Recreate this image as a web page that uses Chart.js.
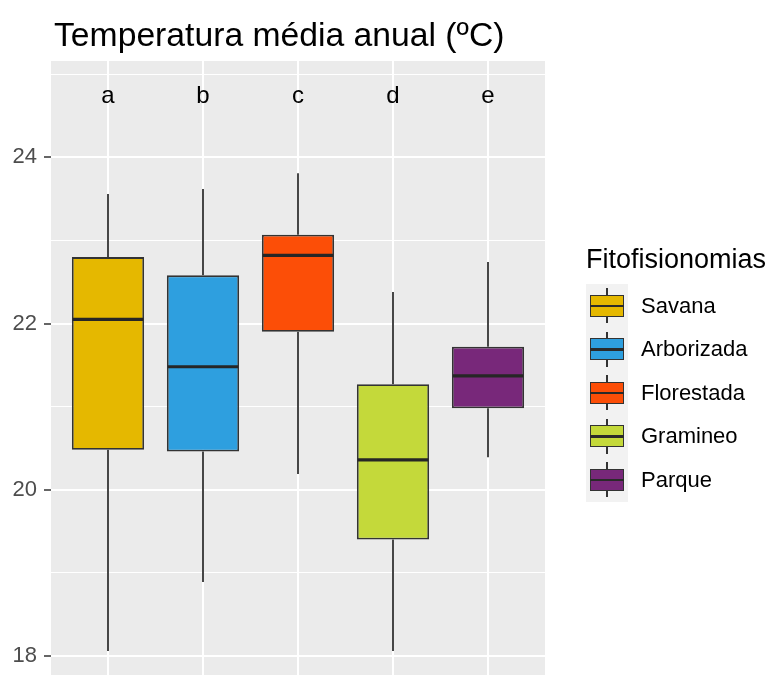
<!DOCTYPE html>
<html>
<head>
<meta charset="utf-8">
<script src="https://cdn.jsdelivr.net/npm/chart.js@4/dist/chart.umd.min.js"></script>
<style>
  html, body { margin: 0; padding: 0; background: #fff; overflow: hidden; }
  #wrap { position: relative; width: 771px; height: 675px; font-family: "Liberation Sans", Arial, sans-serif; }
  #chart { position: absolute; left: 0; top: 0; }
  .title { position: absolute; left: 54px; top: 17px; font-size: 33.7px; line-height: 34px; color: #000; white-space: nowrap; }
  .leg-title { position: absolute; left: 586px; top: 246px; font-size: 27px; line-height: 27px; color: #000; white-space: nowrap; }
  .leg-keys { position: absolute; left: 586px; top: 284px; width: 42px; background: #F2F2F2; }
  .leg-key { position: relative; width: 42px; height: 43.5px; }
  .leg-label { position: absolute; left: 641px; font-size: 22px; line-height: 22px; color: #000; white-space: nowrap; }
  .k-wh { position: absolute; left: 20px; width: 1.8px; background: #333; }
  .k-box { position: absolute; left: 4px; width: 34px; box-sizing: border-box; border: 1.8px solid #333; }
  .k-med { position: absolute; left: 4px; width: 34px; height: 2.5px; background: #2a2a2a; }
</style>
</head>
<body>
<div id="wrap">
  <canvas id="chart" width="771" height="675"></canvas>
  <div class="title">Temperatura média anual (ºC)</div>
  <div class="leg-title">Fitofisionomias</div>
  <div class="leg-keys" id="legKeys"></div>
</div>
<script>
// Vegetation types (fitofisionomias) and their annual mean temperature summaries (°C)
const categories = ['Savana', 'Arborizada', 'Florestada', 'Gramineo', 'Parque'];
const groupLetters = ['a', 'b', 'c', 'd', 'e'];
const whiskerLow  = [18.06, 18.89, 20.19, 18.06, 20.39];
const quartile1   = [20.48, 20.46, 21.90, 19.40, 20.98];
const medians     = [22.05, 21.48, 22.82, 20.36, 21.37];
const quartile3   = [22.80, 22.58, 23.07, 21.27, 21.72];
const whiskerHigh = [23.56, 23.62, 23.81, 22.38, 22.74];
const fillColors  = ['#E5B800', '#2E9FDF', '#FC4E07', '#C4D93A', '#78287A'];

// y axis
const yMajorTicks = [18, 20, 22, 24];
const yMinorTicks = [19, 21, 23, 25];
const yRange = [17.77, 25.16];
const letterLevel = 24.74;

const positions = categories.map((_, i) => i + 1);

const outline = '#333333';

// grey panel background
const panelBg = {
  id: 'panelBg',
  beforeDraw(chart) {
    const { ctx, chartArea: a } = chart;
    ctx.save();
    ctx.fillStyle = '#EBEBEB';
    ctx.fillRect(a.left, a.top, a.right - a.left, a.bottom - a.top);
    ctx.restore();
  }
};

// whiskers under the boxes, medians and group letters on top
const boxExtras = {
  id: 'boxExtras',
  beforeDatasetsDraw(chart) {
    const { ctx } = chart;
    const ys = chart.scales.y;
    const meta = chart.getDatasetMeta(0);
    ctx.save();
    ctx.strokeStyle = outline;
    ctx.lineWidth = 1.8;
    meta.data.forEach((bar, i) => {
      const { x } = bar.getProps(['x'], true);
      ctx.beginPath();
      ctx.moveTo(x, ys.getPixelForValue(quartile3[i]));
      ctx.lineTo(x, ys.getPixelForValue(whiskerHigh[i]));
      ctx.moveTo(x, ys.getPixelForValue(quartile1[i]));
      ctx.lineTo(x, ys.getPixelForValue(whiskerLow[i]));
      ctx.stroke();
    });
    ctx.restore();
  },
  afterDatasetsDraw(chart) {
    const { ctx } = chart;
    const ys = chart.scales.y;
    const meta = chart.getDatasetMeta(0);
    ctx.save();
    meta.data.forEach((bar, i) => {
      const { x, width } = bar.getProps(['x', 'width'], true);
      const y = ys.getPixelForValue(medians[i]);
      ctx.strokeStyle = '#262626';
      ctx.lineWidth = 3.2;
      ctx.beginPath();
      ctx.moveTo(x - width / 2 + 0.9, y);
      ctx.lineTo(x + width / 2 - 0.9, y);
      ctx.stroke();
      ctx.fillStyle = '#000';
      ctx.font = '24px "Liberation Sans", Arial, sans-serif';
      ctx.textAlign = 'center';
      ctx.textBaseline = 'middle';
      ctx.fillText(groupLetters[i], x, ys.getPixelForValue(letterLevel));
    });
    ctx.restore();
  }
};

new Chart(document.getElementById('chart'), {
  type: 'bar',
  data: {
    datasets: [{
      label: 'Temperatura',
      data: positions.map((p, i) => ({ x: p, y: [quartile1[i], quartile3[i]] })),
      backgroundColor: fillColors,
      borderColor: outline,
      borderWidth: 1.8,
      borderSkipped: false,
      categoryPercentage: 1,
      barPercentage: 0.76
    }]
  },
  options: {
    responsive: false,
    animation: false,
    layout: { padding: { left: 0, top: 61, right: 226, bottom: 0 } },
    plugins: { legend: { display: false }, title: { display: false }, tooltip: { enabled: false } },
    scales: {
      x: {
        type: 'linear',
        min: 0.4,
        max: 5.6,
        offset: false,
        afterBuildTicks(s) { s.ticks = positions.map(v => ({ value: v })); },
        afterFit(s) { s.height = 0; s.paddingLeft = 0; s.paddingRight = 0; },
        ticks: { display: false },
        border: { display: false },
        grid: { color: '#FFFFFF', lineWidth: 2, drawTicks: false, offset: false }
      },
      y: {
        min: yRange[0],
        max: yRange[1],
        afterBuildTicks(s) {
          s.ticks = [...yMajorTicks, ...yMinorTicks].sort((a, b) => a - b).map(v => ({ value: v }));
        },
        afterFit(s) { s.width = 51; s.paddingTop = 0; s.paddingBottom = 0; },
        border: { display: false },
        grid: {
          color: '#FFFFFF',
          lineWidth: c => (c.tick && yMajorTicks.includes(c.tick.value)) ? 2 : 1,
          tickColor: c => (c.tick && yMajorTicks.includes(c.tick.value)) ? '#333333' : 'rgba(0,0,0,0)',
          tickWidth: 1.5,
          tickLength: 7,
          drawTicks: true
        },
        ticks: {
          padding: 7,
          color: '#4D4D4D',
          font: { family: '"Liberation Sans", Arial, sans-serif', size: 22 },
          callback: v => yMajorTicks.includes(v) ? String(v) : ''
        }
      }
    }
  },
  plugins: [panelBg, boxExtras]
});

// legend keys and labels
const legKeys = document.getElementById('legKeys');
const wrap = document.getElementById('wrap');
const keyH = 43.5;
categories.forEach((name, i) => {
  const key = document.createElement('div');
  key.className = 'leg-key';
  key.innerHTML =
    `<div class="k-wh" style="top:${keyH * 0.1}px;height:${keyH * 0.15}px"></div>` +
    `<div class="k-wh" style="top:${keyH * 0.75}px;height:${keyH * 0.15}px"></div>` +
    `<div class="k-box" style="top:${keyH * 0.25}px;height:${keyH * 0.5}px;background:${fillColors[i]}"></div>` +
    `<div class="k-med" style="top:${keyH * 0.5 - 1.25}px"></div>`;
  legKeys.appendChild(key);
  const lab = document.createElement('div');
  lab.className = 'leg-label';
  lab.textContent = name;
  lab.style.top = (284 + keyH * i + keyH / 2 - 11) + 'px';
  wrap.appendChild(lab);
});
</script>
</body>
</html>
